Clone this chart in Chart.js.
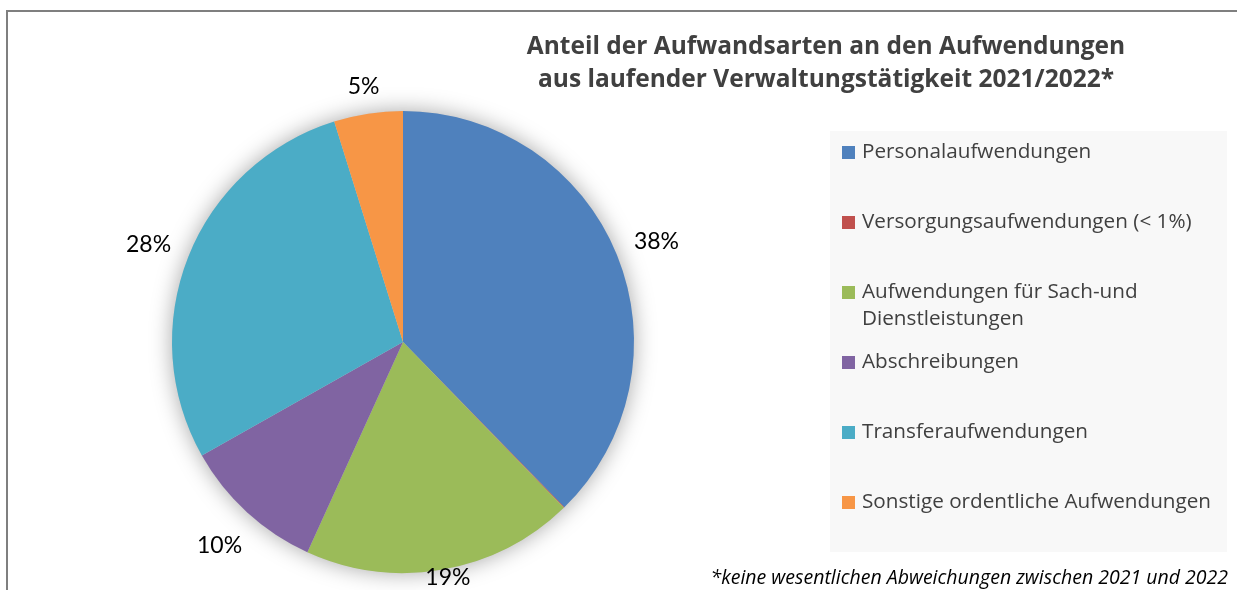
<!DOCTYPE html>
<html>
<head>
<meta charset="utf-8">
<script src="https://cdn.jsdelivr.net/npm/chart.js@4.4.0/dist/chart.umd.min.js"></script>
<style>
  html, body { margin: 0; padding: 0; background: #fff; }
  #wrap { position: relative; width: 1237px; height: 590px; }
</style>
</head>
<body>
<div id="wrap"><canvas id="chart-1" width="1237" height="590"></canvas></div>
<script>
// Daten
var labels = [
    'Personalaufwendungen',
    'Versorgungsaufwendungen (< 1%)',
    'Aufwendungen für Sach-und Dienstleistungen',
    'Abschreibungen',
    'Transferaufwendungen',
    'Sonstige ordentliche Aufwendungen'
];
var legendLines = [
    ['Personalaufwendungen'],
    ['Versorgungsaufwendungen (< 1%)'],
    ['Aufwendungen für Sach-und', 'Dienstleistungen'],
    ['Abschreibungen'],
    ['Transferaufwendungen'],
    ['Sonstige ordentliche Aufwendungen']
];
var values = [37.6, 0.05, 19.0, 10.0, 28.3, 4.8];
var valueLabels = ['38%', '', '19%', '10%', '28%', '5%'];
var colors = ['#4F81BD', '#C0504D', '#9BBB59', '#8064A2', '#4BACC6', '#F79646'];
var titleLines = ['Anteil der Aufwandsarten an den Aufwendungen', 'aus laufender Verwaltungstätigkeit 2021/2022*'];
var footnote = '*keine wesentlichen Abweichungen zwischen 2021 und 2022';

var FONT = '"Open Sans", Lato, sans-serif';
var LABEL_FONT = 'Lato, "Open Sans", sans-serif';

var decorPlugin = {
    id: 'decor',
    beforeDraw: function(chart) {
        var ctx = chart.ctx;
        ctx.save();
        // Rahmen oben und links
        ctx.strokeStyle = '#7f7f7f';
        ctx.lineWidth = 2;
        ctx.beginPath();
        ctx.moveTo(7, 590);
        ctx.lineTo(7, 11);
        ctx.lineTo(1237, 11);
        ctx.stroke();
        // Legendenhintergrund
        ctx.fillStyle = '#f8f8f8';
        ctx.fillRect(830, 131, 397, 421);
        ctx.restore();
    },
    beforeDatasetsDraw: function(chart) {
        // weicher Schatten um die Torte
        var ctx = chart.ctx;
        var arc = chart.getDatasetMeta(0).data[0];
        ctx.save();
        ctx.shadowColor = 'rgba(0,0,0,0.35)';
        ctx.shadowBlur = 22;
        ctx.fillStyle = '#cccccc';
        ctx.beginPath();
        ctx.arc(arc.x, arc.y, arc.outerRadius, 0, 2 * Math.PI);
        ctx.fill();
        ctx.restore();
    },
    afterDatasetsDraw: function(chart) {
        var ctx = chart.ctx;
        var meta = chart.getDatasetMeta(0);
        ctx.save();

        // Prozentwerte
        ctx.font = '23px ' + LABEL_FONT;
        ctx.fillStyle = '#000';
        ctx.textAlign = 'center';
        ctx.textBaseline = 'middle';
        meta.data.forEach(function(arc, i) {
            var txt = valueLabels[i];
            if (!txt) return;
            var mid = (arc.startAngle + arc.endAngle) / 2;
            var c = Math.cos(mid), s = Math.sin(mid);
            var w = ctx.measureText(txt).width;
            var d = arc.outerRadius + 18 + Math.abs(c) * w / 2 + Math.abs(s) * 10;
            var x = arc.x + c * d;
            var y = Math.min(arc.y + s * d + 3, 578);
            ctx.fillText(txt, x, y);
        });

        // Titel
        ctx.font = 'bold 24.5px ' + FONT;
        ctx.fillStyle = '#404040';
        ctx.textBaseline = 'alphabetic';
        ctx.fillText(titleLines[0], 826, 54);
        ctx.fillText(titleLines[1], 826, 87);

        // Legende
        ctx.font = '20.7px ' + FONT;
        ctx.textAlign = 'left';
        legendLines.forEach(function(lines, i) {
            var base = 158 + i * 70;
            ctx.fillStyle = colors[i];
            ctx.fillRect(842, base - 12, 13, 13);
            ctx.fillStyle = '#404040';
            lines.forEach(function(t, k) {
                ctx.fillText(t, 862, base + k * 27);
            });
        });

        // Fussnote
        ctx.font = 'italic 19.5px ' + FONT;
        ctx.fillStyle = '#000';
        ctx.textAlign = 'right';
        ctx.fillText(footnote, 1228, 584);
        ctx.restore();
    }
};

var ctx = document.getElementById('chart-1');
var myChart = new Chart(ctx, {
    type: 'pie',
    data: {
        labels: labels,
        datasets: [{
            data: values,
            backgroundColor: colors,
            borderWidth: 0
        }]
    },
    options: {
        responsive: false,
        animation: false,
        layout: {
            padding: { left: 172, right: 603, top: 111, bottom: 17 }
        },
        plugins: {
            legend: { display: false },
            title: { display: false },
            tooltip: { enabled: false }
        }
    },
    plugins: [decorPlugin]
});
</script>
</body>
</html>
